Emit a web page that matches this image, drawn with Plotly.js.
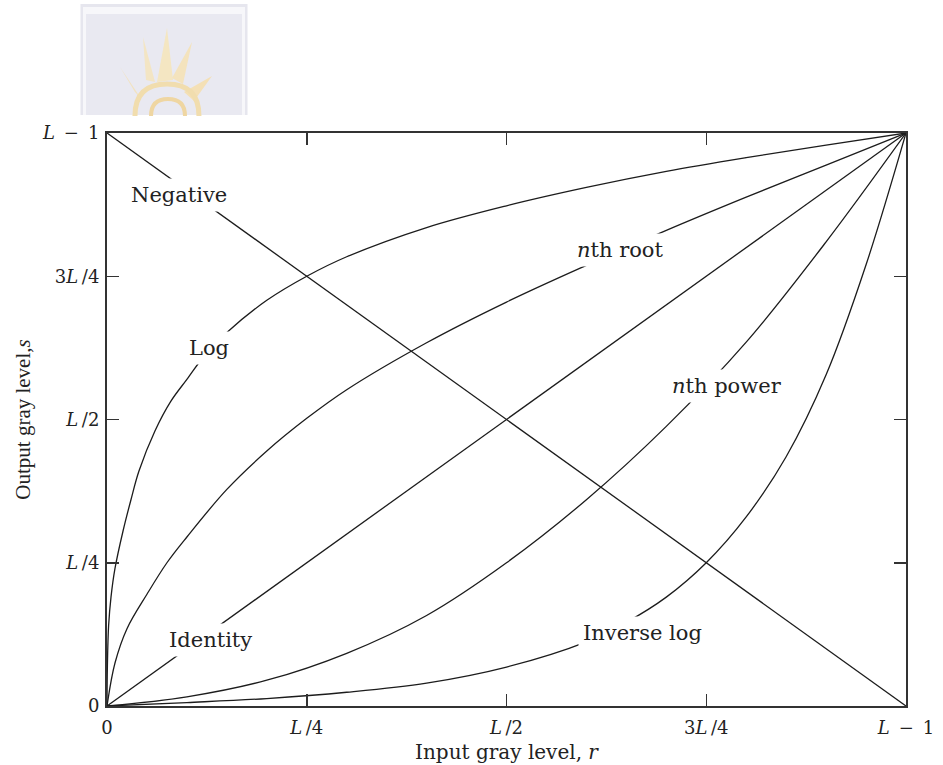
<!DOCTYPE html>
<html>
<head>
<meta charset="utf-8">
<script src="https://cdn.plot.ly/plotly-3.0.1.min.js"></script>
<style>
  html, body { margin: 0; padding: 0; background: #ffffff; }
  #chart { width: 943px; height: 765px; }
</style>
</head>
<body>
<div id="chart"></div>
<script>
// ---- Data (normalised: 0 .. L-1 mapped to 0 .. 1) ----
const tickVals = [0, 0.25, 0.5, 0.75, 1];
const tickText = ['0', '<i>L</i>\u2009/4', '<i>L</i>\u2009/2', '3<i>L</i>\u2009/4', '<i>L</i>\u2002\u2212\u20021'];

const negativeR = [0, 1];
const negativeS = [1, 0];

const identityR = [0, 1];
const identityS = [0, 1];

const logR = [0, 0.0005, 0.002, 0.005, 0.01, 0.02, 0.03, 0.04, 0.06, 0.08, 0.1, 0.125, 0.15, 0.2, 0.25, 0.3, 0.4, 0.5, 0.6, 0.7, 0.8, 0.9, 1];
const logS = [0, 0.07, 0.14, 0.19, 0.24, 0.305, 0.36, 0.41, 0.48, 0.532, 0.57, 0.617, 0.652, 0.708, 0.75, 0.784, 0.835, 0.873, 0.905, 0.933, 0.957, 0.979, 1];

const rootR = [0, 0.01, 0.025, 0.05, 0.075, 0.1, 0.15, 0.2, 0.25, 0.3, 0.4, 0.5, 0.6, 0.7, 0.8, 0.9, 1];
const rootS = [0, 0.075, 0.135, 0.195, 0.25, 0.295, 0.378, 0.445, 0.502, 0.552, 0.634, 0.705, 0.769, 0.83, 0.888, 0.944, 1];

const powerR = [0, 0.1, 0.2, 0.3, 0.4, 0.5, 0.6, 0.7, 0.8, 0.9, 1];
const powerS = [0, 0.016, 0.045, 0.092, 0.158, 0.25, 0.36, 0.488, 0.635, 0.81, 1];

const invLogR = [0, 0.1, 0.2, 0.3, 0.4, 0.5, 0.6, 0.65, 0.7, 0.75, 0.8, 0.85, 0.9, 0.95, 1];
const invLogS = [0, 0.006, 0.013, 0.024, 0.040, 0.068, 0.112, 0.146, 0.19, 0.25, 0.33, 0.435, 0.578, 0.77, 1];

const curveLabels = ['Negative', 'Log', '<i>n</i>th root', '<i>n</i>th power', 'Identity', 'Inverse log'];

// ---- Styling ----
const ink = '#1c1c1c';
const serif = 'DejaVu Serif, serif';
const lineStyle = { color: ink, width: 1.3, shape: 'spline', smoothing: 1.0 };

function curve(x, y, name) {
  return { x: x, y: y, name: name, type: 'scatter', mode: 'lines', line: lineStyle, hoverinfo: 'skip', showlegend: false };
}

const traces = [
  curve(negativeR, negativeS, 'Negative'),
  curve(identityR, identityS, 'Identity'),
  curve(logR, logS, 'Log'),
  curve(rootR, rootS, 'nth root'),
  curve(powerR, powerS, 'nth power'),
  curve(invLogR, invLogS, 'Inverse log')
];

// label placement (data coordinates)
const labelPos = [
  [0.090, 0.892],
  [0.128, 0.625],
  [0.642, 0.796],
  [0.776, 0.558],
  [0.130, 0.115],
  [0.670, 0.127]
];
const annotations = curveLabels.map((t, i) => ({
  x: labelPos[i][0], y: labelPos[i][1], xref: 'x', yref: 'y',
  text: t, showarrow: false, bgcolor: '#ffffff', borderpad: 4,
  font: { family: serif, size: 21, color: '#222' }
}));

// ---- faint watermark logo above the plot (paper coords from pixels) ----
const PL = 107, PR = 906, PT = 133, PB = 706;
function px(x) { return (x - PL) / (PR - PL); }
function py(y) { return (PB - y) / (PB - PT); }
function pt(x, y) { return px(x).toFixed(4) + ',' + py(y).toFixed(4); }
function rect(x0, y0, x1, y1, fill) {
  return { type: 'rect', xref: 'paper', yref: 'paper', x0: px(x0), x1: px(x1), y0: py(y1), y1: py(y0),
           fillcolor: fill, line: { width: 0 }, layer: 'below' };
}
function ray(tip, b1, b2, fill) {
  return { type: 'path', xref: 'paper', yref: 'paper', layer: 'below',
           path: 'M' + pt(tip[0], tip[1]) + ' L' + pt(b1[0], b1[1]) + ' L' + pt(b2[0], b2[1]) + ' Z',
           fillcolor: fill, line: { width: 0 } };
}
function arc(cx, cy, r, color, w) {
  return { type: 'path', xref: 'paper', yref: 'paper', layer: 'below',
           path: 'M' + pt(cx - r, cy) + ' Q' + pt(cx - r, cy - r) + ' ' + pt(cx, cy - r) +
                 ' Q' + pt(cx + r, cy - r) + ' ' + pt(cx + r, cy),
           line: { color: color, width: w } };
}
const shapes = [
  rect(80.5, 4, 247.5, 115, '#e6e6ee'),
  rect(83, 7, 245, 115, '#f7f7fa'),
  rect(86, 14, 242, 115, '#e9e9f1'),
  ray([167, 28], [157, 82], [173, 80], '#f4e6c2'),
  ray([143, 37], [146, 80], [155, 82], '#f3e5c4'),
  ray([192, 42], [172, 78], [183, 84], '#f4e3bd'),
  ray([120, 67], [135, 92], [142, 100], '#f2e2c0'),
  ray([212, 76], [184, 92], [194, 101], '#f4e0b6'),
  arc(167, 116, 32, '#f1ddae', 5),
  arc(168, 116, 17, '#efd6a2', 4)
];

const axisCommon = {
  range: [0, 1], tickvals: tickVals, ticktext: tickText,
  ticks: 'inside', ticklen: 12, tickwidth: 1.5, tickcolor: '#333',
  showline: true, linewidth: 2, linecolor: '#333', mirror: 'ticks',
  showgrid: false, zeroline: false, automargin: false, fixedrange: true,
  tickfont: { family: serif, size: 18, color: '#222' }
};

const layout = {
  width: 943, height: 765,
  margin: { l: PL, r: 943 - PR, t: PT, b: 765 - PB },
  paper_bgcolor: '#ffffff', plot_bgcolor: '#ffffff',
  showlegend: false,
  xaxis: Object.assign({}, axisCommon, {
    ticklabelstandoff: 4,
    title: { text: 'Input gray level, <i>r</i>', font: { family: serif, size: 20, color: '#222' }, standoff: 8 }
  }),
  yaxis: Object.assign({}, axisCommon, {
    ticklabelstandoff: 2,
    title: { text: 'Output gray level,<i>s</i>', font: { family: 'Liberation Serif, serif', size: 21, color: '#222' }, standoff: 6 }
  }),
  annotations: annotations,
  shapes: shapes
};

Plotly.newPlot('chart', traces, layout, { displayModeBar: false, staticPlot: true });
</script>
</body>
</html>
